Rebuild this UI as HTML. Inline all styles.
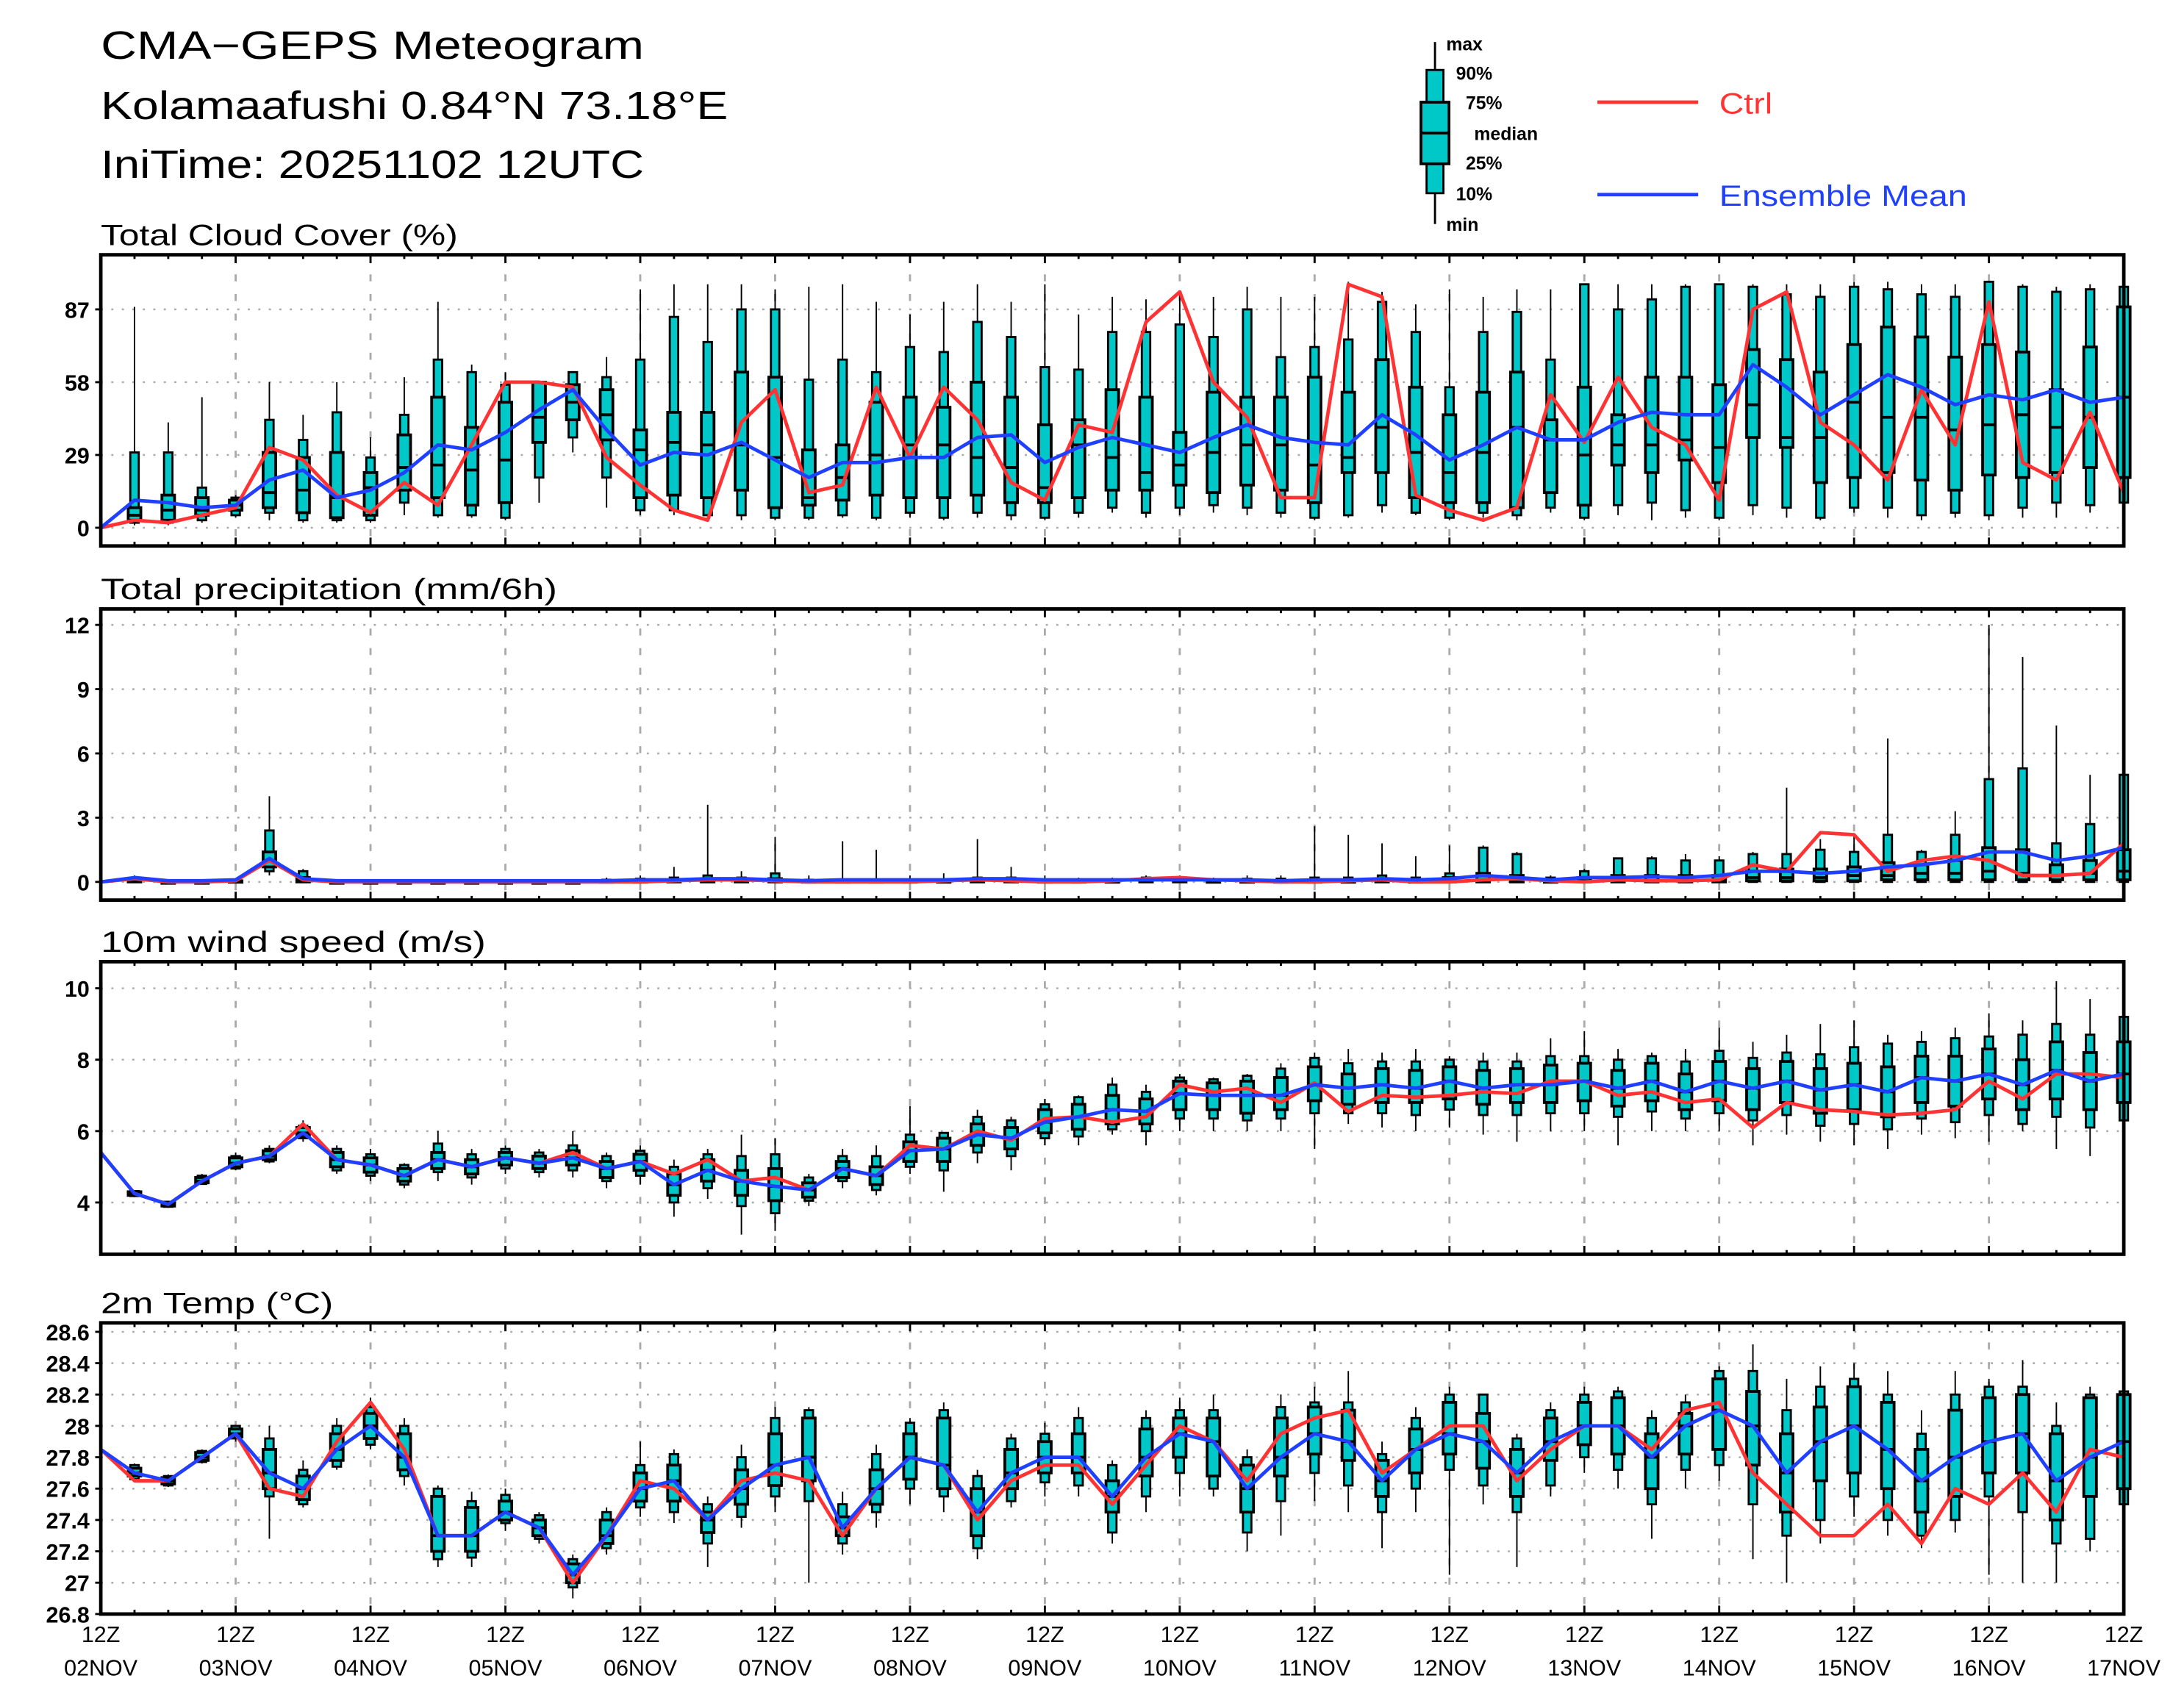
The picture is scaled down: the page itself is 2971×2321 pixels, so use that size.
<!DOCTYPE html>
<html><head><meta charset="utf-8">
<style>
html,body{margin:0;padding:0;background:#fff;}
svg{display:block;}
text{font-family:"Liberation Sans",sans-serif;}
</style></head>
<body>
<svg id="chart" xmlns="http://www.w3.org/2000/svg" width="2971" height="2321" viewBox="0 0 1560 1218.7" preserveAspectRatio="none">
<rect x="0" y="0" width="1560" height="1218.7" fill="#fff"/>
<g font-size="28" fill="#000">
<text x="72" y="42" textLength="388" lengthAdjust="spacingAndGlyphs">CMA−GEPS Meteogram</text>
<text x="72" y="85" textLength="448" lengthAdjust="spacingAndGlyphs">Kolamaafushi 0.84°N 73.18°E</text>
<text x="72" y="127" textLength="388" lengthAdjust="spacingAndGlyphs">IniTime: 20251102 12UTC</text>
</g>
<g>
<line x1="1025" y1="30" x2="1025" y2="160" stroke="#000" stroke-width="1.5"/>
<rect x="1019" y="50" width="12" height="88" fill="#00c8c8" stroke="#000" stroke-width="1.5"/>
<rect x="1015" y="73" width="20" height="44" fill="#00c8c8" stroke="#000" stroke-width="2"/>
<line x1="1015" y1="95" x2="1035" y2="95" stroke="#000" stroke-width="2"/>
<g font-size="13" font-weight="bold">
<text x="1033" y="36">max</text><text x="1040" y="57">90%</text><text x="1047" y="78">75%</text>
<text x="1053" y="100">median</text><text x="1047" y="121">25%</text><text x="1040" y="143">10%</text><text x="1033" y="165">min</text>
</g>
<line x1="1141" y1="73" x2="1213" y2="73" stroke="#ff3333" stroke-width="2.5"/>
<text x="1228" y="81" font-size="21" fill="#ff3333" textLength="38" lengthAdjust="spacingAndGlyphs">Ctrl</text>
<line x1="1141" y1="139" x2="1213" y2="139" stroke="#2040ff" stroke-width="2.5"/>
<text x="1228" y="147" font-size="21" fill="#2040ff" textLength="177" lengthAdjust="spacingAndGlyphs">Ensemble Mean</text>
</g>
<g id="plots"></g>
</svg>
<script>
// ---- shared x categories ----
const dayLabels = ["02NOV","03NOV","04NOV","05NOV","06NOV","07NOV","08NOV","09NOV","10NOV","11NOV","12NOV","13NOV","14NOV","15NOV","16NOV","17NOV"];
const nSteps = 61;

// ---- cloud cover ----
const cloudTicks = [0,29,58,87];
const cloudCtrl = [0,3,2,5,8,32,27,13,6,18,9,33,58,58,56,28,17,7,3,42,55,14,17,56,28,56,43,18,11,41,38,82,94,58,44,12,12,97,92,13,7,3,8,53,34,60,40,33,11,87,94,42,33,19,55,33,90,26,19,46,14];
const cloudMean = [0,11,10,8,9,19,23,12,15,22,33,31,38,47,55,39,25,30,29,34,27,20,26,26,28,28,36,37,26,32,36,33,30,36,41,36,34,33,45,37,27,33,40,35,35,42,46,45,45,65,56,45,53,61,56,49,53,51,55,50,52];
const cloudBox = [null,
[1,2,3,5,8,30,88],[1,2,3,7,13,30,42],[2,3,5,7,12,16,52],[4,5,7,9,11,12,13],[3,6,8,14,30,43,58],
[2,3,6,15,28,35,45],[2,3,4,12,30,46,58],[2,3,5,16,22,28,36],[5,10,15,24,37,45,60],[4,5,12,25,52,67,90],
[4,5,9,23,40,62,65],[3,4,10,27,50,57,62],[10,20,34,44,58,58,58],[30,36,43,50,57,62,62],[8,20,35,45,55,60,68],
[5,7,12,31,39,67,95],[5,7,13,34,46,84,97],[4,5,12,33,46,74,97],[3,5,15,33,62,87,97],[3,4,8,28,60,87,95],
[3,4,9,12,31,59,96],[4,5,11,20,33,67,97],[3,4,13,29,50,62,90],[4,6,12,33,52,72,85],[3,4,12,33,48,70,90],
[4,6,13,28,58,82,97],[3,5,10,24,52,76,90],[3,4,10,16,41,64,97],[4,6,12,33,43,63,85],[6,8,15,28,55,78,92],
[4,6,15,22,52,78,91],[5,8,17,25,38,81,94],[6,9,14,30,54,76,92],[5,8,17,33,52,87,96],[4,6,15,33,52,68,92],
[3,4,10,25,60,72,92],[4,5,22,28,54,75,98],[6,9,22,40,67,90,94],[5,6,12,30,56,78,89],[3,4,10,22,45,56,95],
[4,6,10,30,54,78,92],[3,5,8,40,62,86,95],[6,8,14,35,43,67,95],[3,4,9,29,56,97,97],[5,9,25,33,45,87,97],
[3,10,22,33,60,91,97],[4,7,27,35,60,96,97],[3,4,18,32,57,97,97],[5,9,36,49,71,96,97],[4,8,32,36,67,93,97],
[3,4,18,36,62,92,97],[6,8,20,50,73,96,98],[4,8,22,44,80,95,98],[3,5,19,44,76,93,97],[4,6,15,39,68,92,97],
[3,5,21,41,73,98,98],[4,8,20,45,70,96,97],[4,10,22,40,55,94,96],[6,9,24,44,72,95,97],[8,10,20,52,88,96,97]];

// ---- precipitation ----
const precTicks = [0,3,6,9,12];
const precCtrl = [0,0.15,0,0,0.05,1.0,0.1,0,0,0,0,0,0,0,0,0,0,0.05,0.1,0.1,0.05,0,0,0,0,0.05,0.1,0.05,0,0,0.05,0.15,0.2,0.1,0.05,0,0,0.05,0.1,0,0,0.1,0.15,0.05,0,0.1,0.05,0.05,0.1,0.8,0.5,2.3,2.2,0.5,1.0,1.2,1.0,0.3,0.3,0.4,1.8];
const precMean = [0,0.2,0.05,0.05,0.1,1.1,0.15,0.05,0.05,0.05,0.05,0.05,0.05,0.05,0.05,0.05,0.1,0.1,0.15,0.15,0.1,0.05,0.1,0.1,0.1,0.1,0.15,0.15,0.1,0.1,0.1,0.1,0.1,0.1,0.1,0.05,0.1,0.1,0.15,0.1,0.15,0.3,0.2,0.1,0.2,0.2,0.25,0.2,0.3,0.5,0.5,0.4,0.5,0.7,0.8,1.0,1.4,1.4,1.0,1.2,1.6];
const precBox = [null,
[0,0,0,0.05,0.1,0.2,0.3],[0,0,0,0,0,0,0.05],[0,0,0,0,0,0,0.05],[0,0,0,0,0.05,0.1,0.15],[0.3,0.5,0.7,1.0,1.4,2.4,4.0],
[0,0,0,0.05,0.2,0.5,0.6],[0,0,0,0,0,0.05,0.1],[0,0,0,0,0,0.05,0.1],[0,0,0,0,0,0.05,0.1],[0,0,0,0,0,0.05,0.1],
[0,0,0,0,0,0.05,0.1],[0,0,0,0,0,0.05,0.1],[0,0,0,0,0,0.05,0.1],[0,0,0,0,0,0.05,0.1],[0,0,0,0,0.05,0.1,0.2],
[0,0,0,0,0.05,0.15,0.3],[0,0,0,0.05,0.1,0.2,0.7],[0,0,0,0.05,0.15,0.3,3.6],[0,0,0,0.05,0.1,0.2,0.5],[0,0,0,0.05,0.15,0.4,2.1],
[0,0,0,0,0.05,0.1,0.3],[0,0,0,0,0.05,0.1,1.9],[0,0,0,0,0.05,0.1,1.5],[0,0,0,0,0.05,0.1,0.3],[0,0,0,0,0.05,0.1,0.4],
[0,0,0,0.05,0.1,0.2,2.0],[0,0,0,0.05,0.1,0.2,0.7],[0,0,0,0,0.05,0.1,0.3],[0,0,0,0,0.05,0.1,0.2],[0,0,0,0,0.05,0.1,0.2],
[0,0,0,0.05,0.1,0.2,0.3],[0,0,0,0.05,0.1,0.2,0.3],[0,0,0,0,0.05,0.1,0.2],[0,0,0,0,0.05,0.15,0.3],[0,0,0,0,0.05,0.15,0.3],
[0,0,0,0,0.05,0.2,2.6],[0,0,0,0,0.05,0.2,2.2],[0,0,0,0.05,0.1,0.3,1.8],[0,0,0,0,0.05,0.2,1.2],[0,0,0,0.05,0.2,0.4,1.7],
[0,0,0,0.05,0.4,1.6,1.7],[0,0,0,0.05,0.3,1.3,1.4],[0,0,0,0,0.05,0.2,0.3],[0,0,0,0.05,0.2,0.5,0.6],[0,0,0,0.05,0.3,1.1,1.1],
[0,0,0,0.05,0.3,1.1,1.2],[0,0,0,0.05,0.3,1.0,1.3],[0,0,0,0.1,0.3,1.0,1.2],[0,0,0.05,0.2,0.5,1.3,1.4],[0,0,0.05,0.2,0.6,1.3,4.4],
[0,0,0.05,0.2,0.6,1.5,2.0],[0,0,0.05,0.3,0.7,1.4,2.2],[0,0,0.1,0.3,0.9,2.2,6.7],[0,0,0.1,0.4,0.8,1.4,1.5],[0,0,0.1,0.4,1.0,2.2,3.3],
[0,0,0.1,0.5,1.6,4.8,12.0],[0,0,0.1,0.4,1.5,5.3,10.5],[0,0,0.1,0.3,0.8,1.8,7.3],[0,0,0.1,0.4,1.0,2.7,5.0],[0,0,0.1,0.5,1.5,5.0,5.0]];

// ---- wind ----
const windTicks = [4,6,8,10];
const windCtrl = [5.4,4.25,3.95,4.6,5.1,5.3,6.2,5.2,5.05,4.75,5.2,5.0,5.25,5.1,5.4,4.95,5.15,4.8,5.2,4.6,4.7,4.35,4.95,4.75,5.6,5.5,6.0,5.75,6.35,6.4,6.25,6.4,7.3,7.1,7.2,6.8,7.35,6.55,7.0,6.95,7.0,7.1,7.05,7.4,7.4,7.0,7.1,6.8,6.9,6.1,6.8,6.6,6.55,6.45,6.5,6.6,7.4,6.9,7.6,7.6,7.5];
const windMean = [5.4,4.25,3.95,4.6,5.1,5.3,5.95,5.2,5.05,4.75,5.2,5.0,5.25,5.1,5.25,4.95,5.15,4.5,4.9,4.6,4.45,4.35,4.95,4.75,5.45,5.5,5.9,5.8,6.25,6.4,6.6,6.55,7.05,7.0,7.0,7.0,7.3,7.2,7.3,7.2,7.4,7.2,7.3,7.3,7.4,7.2,7.4,7.1,7.4,7.2,7.4,7.15,7.3,7.1,7.5,7.4,7.6,7.3,7.7,7.4,7.6];
const windMin = [null,4.15,3.85,4.5,4.9,5.1,5.7,4.8,4.6,4.4,4.6,4.5,4.8,4.7,4.7,4.4,4.5,3.6,4.1,3.1,3.2,3.9,4.4,4.2,4.8,4.3,5.1,4.9,5.6,5.6,5.9,5.6,6.0,6.0,6.0,6.0,5.5,6.2,6.1,6.0,6.1,5.9,5.7,6.0,6.0,5.6,6.0,6.0,6.0,5.6,5.9,5.7,5.6,5.5,5.9,5.8,5.7,6.0,5.5,5.3,6.1];
const windP10 = [null,4.18,3.88,4.52,4.95,5.15,5.8,4.9,4.75,4.5,4.85,4.7,4.95,4.85,4.9,4.6,4.75,4.0,4.4,3.9,3.7,4.05,4.6,4.35,5.0,4.9,5.4,5.3,5.8,5.85,6.05,6.0,6.35,6.35,6.3,6.35,6.5,6.5,6.5,6.45,6.6,6.45,6.45,6.5,6.5,6.4,6.55,6.35,6.5,6.3,6.45,6.15,6.2,6.05,6.35,6.25,6.45,6.2,6.4,6.1,6.3];
const windP25 = [null,4.2,3.9,4.55,5.0,5.2,5.85,5.0,4.85,4.6,4.95,4.8,5.05,4.95,5.05,4.7,4.9,4.2,4.6,4.2,4.05,4.15,4.7,4.5,5.15,5.15,5.6,5.5,5.95,6.05,6.2,6.2,6.6,6.6,6.5,6.6,6.85,6.75,6.8,6.8,6.9,6.75,6.8,6.8,6.85,6.7,6.85,6.6,6.85,6.6,6.8,6.5,6.6,6.4,6.8,6.7,6.9,6.6,6.9,6.6,6.8];
const windMed = [null,4.25,3.95,4.6,5.1,5.3,5.95,5.2,5.05,4.75,5.2,5.0,5.25,5.1,5.25,4.95,5.15,4.5,4.9,4.6,4.45,4.35,4.95,4.75,5.45,5.5,5.9,5.8,6.25,6.4,6.6,6.55,7.05,7.0,7.0,7.0,7.3,7.2,7.3,7.2,7.4,7.2,7.3,7.3,7.4,7.2,7.4,7.1,7.4,7.2,7.4,7.15,7.3,7.1,7.5,7.4,7.6,7.3,7.7,7.4,7.6];
const windP75 = [null,4.3,4.0,4.7,5.25,5.45,6.1,5.4,5.25,4.95,5.4,5.2,5.4,5.3,5.45,5.15,5.35,4.8,5.2,4.9,4.95,4.55,5.15,5.0,5.7,5.8,6.2,6.1,6.6,6.75,7.0,6.9,7.4,7.35,7.4,7.5,7.8,7.6,7.75,7.7,7.8,7.7,7.75,7.85,7.9,7.7,7.9,7.6,7.95,7.75,7.95,7.75,7.9,7.8,8.1,8.1,8.3,8.0,8.5,8.2,8.5];
const windP90 = [null,4.32,4.02,4.75,5.3,5.5,6.15,5.5,5.35,5.05,5.65,5.35,5.5,5.4,5.6,5.3,5.45,5.0,5.35,5.3,5.35,4.7,5.3,5.3,5.9,5.95,6.4,6.3,6.75,6.95,7.3,7.1,7.5,7.45,7.55,7.75,8.05,7.9,7.95,7.95,8.0,7.95,7.95,8.1,8.1,8.0,8.1,7.95,8.25,8.05,8.2,8.15,8.35,8.45,8.5,8.6,8.65,8.7,9.0,8.7,9.2];
const windMax = [null,4.35,4.05,4.8,5.4,5.6,6.3,5.6,5.5,5.1,6.0,5.5,5.6,5.5,6.0,5.4,5.6,5.2,5.5,5.9,5.8,4.8,5.5,5.6,6.7,5.9,6.6,6.4,6.9,7.0,7.5,7.3,7.6,7.5,7.6,7.9,8.2,8.3,8.2,8.3,8.1,8.2,8.2,8.6,8.8,8.3,8.2,8.3,8.9,8.5,8.7,9.0,9.1,8.7,8.8,8.9,9.3,9.1,10.2,9.7,9.3];

// ---- temperature ----
const tempTicks = [26.8,27,27.2,27.4,27.6,27.8,28,28.2,28.4,28.6];
const tempTickLabels = ["26.8","27","27.2","27.4","27.6","27.8","28","28.2","28.4","28.6"];
const tempCtrl = [27.85,27.65,27.65,27.8,27.95,27.6,27.55,27.9,28.15,27.85,27.3,27.3,27.45,27.35,27.0,27.3,27.65,27.6,27.4,27.65,27.7,27.65,27.3,27.6,27.8,27.75,27.4,27.65,27.75,27.75,27.5,27.75,28.0,27.9,27.65,27.95,28.05,28.1,27.7,27.85,28.0,28.0,27.65,27.85,28.0,28.0,27.85,28.1,28.15,27.7,27.5,27.3,27.3,27.5,27.25,27.6,27.5,27.7,27.45,27.85,27.8];
const tempMean = [27.85,27.7,27.65,27.8,27.95,27.7,27.6,27.85,28.0,27.8,27.3,27.3,27.45,27.35,27.05,27.3,27.6,27.65,27.4,27.6,27.75,27.8,27.35,27.6,27.8,27.75,27.45,27.7,27.8,27.8,27.55,27.8,27.95,27.9,27.6,27.8,27.95,27.9,27.65,27.85,27.95,27.9,27.7,27.9,28.0,28.0,27.8,28.0,28.1,28.0,27.7,27.9,28.0,27.85,27.65,27.8,27.9,27.95,27.65,27.8,27.9];
const tempMin = [null,27.65,27.61,27.76,27.9,27.28,27.48,27.72,27.85,27.62,27.1,27.1,27.33,27.25,26.9,27.18,27.42,27.38,27.1,27.35,27.45,27.0,27.18,27.35,27.5,27.45,27.15,27.48,27.55,27.55,27.25,27.45,27.55,27.55,27.2,27.3,27.52,27.45,27.22,27.45,27.05,27.5,27.1,27.55,27.7,27.6,27.28,27.6,27.65,27.15,27.0,27.25,27.42,27.3,27.22,27.32,27.05,27.0,27.0,27.2,27.45];
const tempP10 = [null,27.66,27.62,27.77,27.92,27.55,27.5,27.74,27.88,27.68,27.15,27.16,27.38,27.28,26.97,27.22,27.48,27.45,27.25,27.42,27.55,27.52,27.25,27.45,27.6,27.55,27.22,27.52,27.64,27.62,27.32,27.55,27.7,27.6,27.32,27.52,27.7,27.62,27.45,27.6,27.72,27.62,27.45,27.62,27.8,27.72,27.5,27.72,27.75,27.5,27.3,27.4,27.55,27.4,27.3,27.4,27.55,27.45,27.25,27.28,27.5];
const tempP25 = [null,27.68,27.63,27.78,27.93,27.6,27.53,27.78,27.92,27.72,27.2,27.2,27.4,27.3,27.0,27.25,27.52,27.52,27.32,27.5,27.62,27.65,27.3,27.5,27.66,27.6,27.3,27.6,27.7,27.7,27.45,27.68,27.8,27.68,27.45,27.68,27.82,27.78,27.55,27.7,27.82,27.73,27.55,27.78,27.88,27.82,27.6,27.82,27.85,27.75,27.45,27.65,27.7,27.6,27.45,27.55,27.7,27.7,27.4,27.55,27.6];
const tempMed = [null,27.7,27.65,27.8,27.95,27.7,27.6,27.85,28.0,27.8,27.3,27.3,27.45,27.35,27.05,27.3,27.6,27.65,27.4,27.6,27.75,27.8,27.35,27.6,27.8,27.75,27.45,27.7,27.8,27.8,27.55,27.8,27.95,27.9,27.6,27.8,27.95,27.9,27.65,27.85,27.95,27.9,27.7,27.9,28.0,28.0,27.8,28.0,28.1,28.0,27.7,27.9,28.0,27.85,27.65,27.8,27.9,27.95,27.65,27.8,27.9];
const tempP75 = [null,27.73,27.67,27.83,27.98,27.85,27.68,27.95,28.08,27.95,27.55,27.48,27.52,27.4,27.12,27.4,27.7,27.75,27.45,27.72,27.95,28.05,27.42,27.72,27.95,28.05,27.6,27.85,27.9,27.95,27.65,27.98,28.05,28.05,27.75,28.05,28.12,28.1,27.78,27.98,28.15,28.08,27.85,28.05,28.15,28.18,27.95,28.08,28.3,28.22,27.95,28.12,28.25,28.15,27.85,28.1,28.18,28.2,27.95,28.18,28.2];
const tempP90 = [null,27.75,27.68,27.84,28.0,27.92,27.72,28.0,28.12,28.0,27.6,27.52,27.56,27.43,27.15,27.45,27.75,27.82,27.5,27.8,28.05,28.1,27.5,27.82,28.02,28.1,27.68,27.92,27.95,28.05,27.75,28.05,28.1,28.1,27.8,28.12,28.15,28.15,27.82,28.05,28.2,28.2,27.92,28.1,28.2,28.22,28.05,28.15,28.35,28.35,28.1,28.25,28.3,28.2,27.95,28.2,28.25,28.25,28.0,28.2,28.22];
const tempMax = [null,27.76,27.69,27.85,28.0,28.0,27.78,28.05,28.18,28.05,27.62,27.58,27.6,27.45,27.18,27.48,27.9,27.85,27.55,27.88,28.12,28.12,27.58,27.88,28.05,28.15,27.72,27.95,28.02,28.12,27.78,28.1,28.18,28.2,27.85,28.2,28.25,28.35,27.9,28.12,28.25,28.2,27.95,28.15,28.25,28.25,28.1,28.2,28.38,28.52,28.3,28.38,28.4,28.35,28.1,28.35,28.3,28.42,28.15,28.25,28.22];

const NS = "http://www.w3.org/2000/svg";
const plots = document.getElementById("plots");
const X0 = 72, X1 = 1517;
function xPos(i){ return X0 + (X1 - X0) * i / (nSteps - 1); }
function mk(tag, attrs, parent){
  const e = document.createElementNS(NS, tag);
  for (const k in attrs) e.setAttribute(k, attrs[k]);
  (parent || plots).appendChild(e);
  return e;
}

function drawPanel(cfg){
  const g = mk("g", {});
  
  
  const yPos = v => cfg.y0 - (v - cfg.v0) * cfg.k;
  const t = mk("text", {x: 72, y: cfg.top - 7, "font-size": 21, textLength: cfg.titleLen, lengthAdjust: "spacingAndGlyphs"}, g);
  t.textContent = cfg.title;
  
  
  cfg.ticks.forEach((v, j) => {
    const yy = yPos(v);
    const gl = mk("line", {x1: X0, x2: X1, y1: yy, y2: yy, stroke: "#aaa", "stroke-width": 1.3, "stroke-dasharray": "1.5,6"}, g);
    
    
    mk("line", {x1: X0 - 4, x2: X0, y1: yy, y2: yy, stroke: "#000", "stroke-width": 1.5}, g);
    const tl = mk("text", {x: X0 - 8, y: yy + 6, "font-size": 16, "font-weight": "bold", "text-anchor": "end"}, g);
    tl.textContent = cfg.labels ? cfg.labels[j] : String(v);
    
    
  });
  for (let d = 1; d < dayLabels.length - 1; d++){
    const xx = xPos(d * 4);
    const vl = mk("line", {x1: xx, x2: xx, y1: cfg.top, y2: cfg.bottom, stroke: "#aaa", "stroke-width": 1.5, "stroke-dasharray": "5,9"}, g);
    
    
  }
  for (let i = 1; i < nSteps; i++){
    const b = cfg.box(i);
    if (!b) continue;
    const xx = xPos(i);
    const bg = mk("g", {}, g);
    
    
    mk("line", {x1: xx, x2: xx, y1: yPos(b[0]), y2: yPos(b[6]), stroke: "#000", "stroke-width": 1}, bg);
    const h1 = Math.max(1, yPos(b[1]) - yPos(b[5]));
    mk("rect", {x: xx - 3, y: yPos(b[5]), width: 6, height: h1, fill: "#00c8c8", stroke: "#000", "stroke-width": 1.5}, bg);
    const h2 = Math.max(1, yPos(b[2]) - yPos(b[4]));
    mk("rect", {x: xx - 4.5, y: yPos(b[4]), width: 9, height: h2, fill: "#00c8c8", stroke: "#000", "stroke-width": 2}, bg);
    mk("line", {x1: xx - 4.5, x2: xx + 4.5, y1: yPos(b[3]), y2: yPos(b[3]), stroke: "#000", "stroke-width": 2}, bg);
  }
  const pts = arr => arr.map((v, i) => xPos(i).toFixed(1) + "," + yPos(v).toFixed(1)).join(" ");
  const cl = mk("polyline", {points: pts(cfg.ctrl), fill: "none", stroke: "#ff3333", "stroke-width": 2.5, "stroke-linejoin": "round"}, g);
  
  
  const ml = mk("polyline", {points: pts(cfg.mean), fill: "none", stroke: "#2040ff", "stroke-width": 2.5, "stroke-linejoin": "round"}, g);
  
  
  const fr = mk("rect", {x: X0, y: cfg.top, width: X1 - X0, height: cfg.bottom - cfg.top, fill: "none", stroke: "#000", "stroke-width": 2.5}, g);
  
  
  for (let d = 0; d < dayLabels.length; d++){
    for (let q = 0; q < 4 && d * 4 + q < nSteps; q++){
      const xx = xPos(d * 4 + q);
      const len = q === 0 ? 6 : 3;
      mk("line", {x1: xx, x2: xx, y1: cfg.bottom, y2: cfg.bottom - len, stroke: "#000", "stroke-width": 1.5}, g);
      mk("line", {x1: xx, x2: xx, y1: cfg.top, y2: cfg.top + len, stroke: "#000", "stroke-width": 1.5}, g);
    }
  }
}

drawPanel({name: "cloud", title: "Total Cloud Cover (%)", titleLen: 255, top: 182, bottom: 390, y0: 377, v0: 0, k: 1.793,
  ticks: cloudTicks, ctrl: cloudCtrl, mean: cloudMean, box: i => cloudBox[i]});
drawPanel({name: "precip", title: "Total precipitation (mm/6h)", titleLen: 326, top: 435, bottom: 643, y0: 630, v0: 0, k: 15.3,
  ticks: precTicks, ctrl: precCtrl, mean: precMean, box: i => precBox[i]});
drawPanel({name: "wind", title: "10m wind speed (m/s)", titleLen: 275, top: 687, bottom: 896, y0: 859, v0: 4, k: 25.5,
  ticks: windTicks, ctrl: windCtrl, mean: windMean,
  box: i => [windMin[i], windP10[i], windP25[i], windMed[i], windP75[i], windP90[i], windMax[i]]});
drawPanel({name: "temp", title: "2m Temp (°C)", titleLen: 166, top: 945, bottom: 1153, y0: 1153, v0: 26.8, k: 112,
  ticks: tempTicks, labels: tempTickLabels, ctrl: tempCtrl, mean: tempMean,
  box: i => [tempMin[i], tempP10[i], tempP25[i], tempMed[i], tempP75[i], tempP90[i], tempMax[i]]});

dayLabels.forEach((lab, d) => {
  const xx = xPos(d * 4);
  const t1 = mk("text", {x: xx, y: 1173, "font-size": 16, "text-anchor": "middle"});
  t1.textContent = "12Z";
  
  
  const t2 = mk("text", {x: xx, y: 1197, "font-size": 16, "text-anchor": "middle"});
  t2.textContent = lab;
  
  
});
</script>
</body></html>
